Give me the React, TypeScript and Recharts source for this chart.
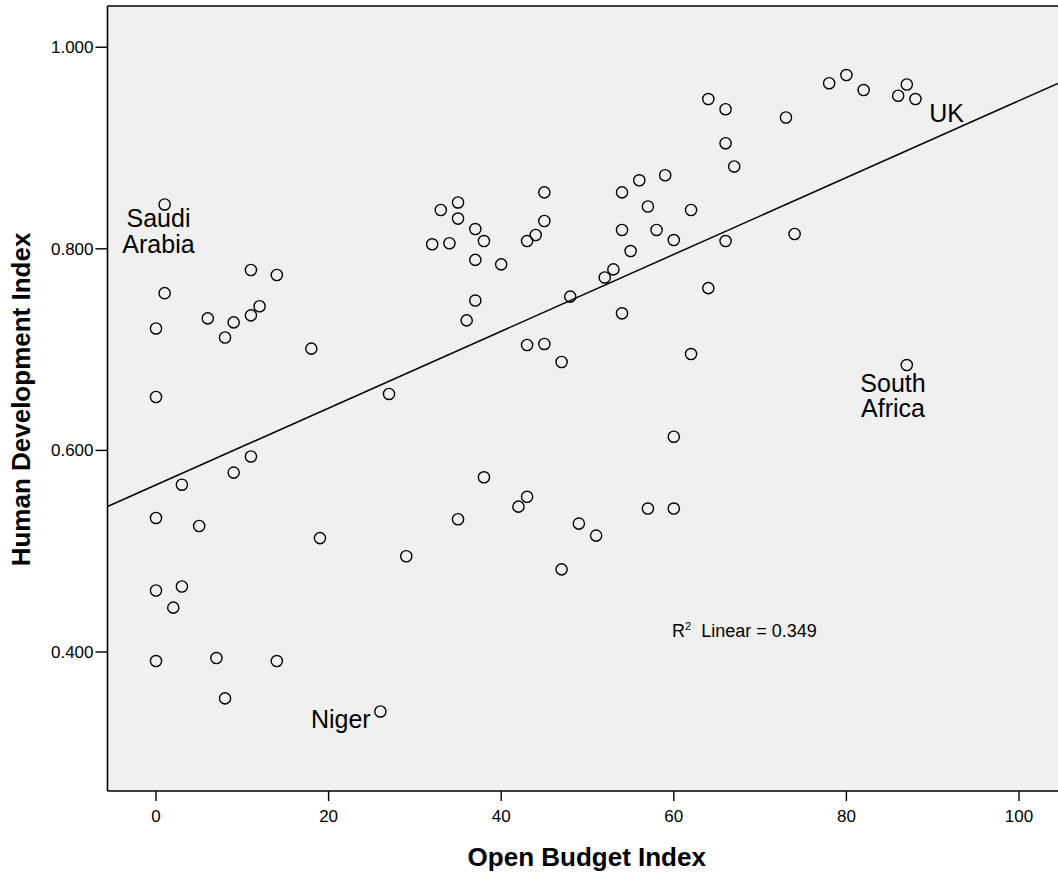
import React from 'react';
import { ScatterChart, Scatter, XAxis, YAxis, CartesianGrid, ReferenceLine, Label } from 'recharts';

const FONT = '"Liberation Sans", Arial, Helvetica, sans-serif';

// plot window (x: Open Budget Index, y: HDI)
const X_DOMAIN: [number, number] = [-5.62, 104.52];
const Y_DOMAIN: [number, number] = [0.2621, 1.0409];
const X_TICKS = [0, 20, 40, 60, 80, 100];
const Y_TICKS = [0.4, 0.6, 0.8, 1.0];

// countries: [open budget index, human development index]
const lowGroup: [number, number][] = [
  [1, 0.844], [1, 0.756], [0, 0.721], [0, 0.653], [0, 0.533], [0, 0.461], [0, 0.391],
  [3, 0.566], [3, 0.465], [2, 0.444], [5, 0.525], [6, 0.731], [8, 0.712], [9, 0.727],
  [9, 0.578], [7, 0.394], [8, 0.354], [11, 0.779], [11, 0.734], [12, 0.743], [11, 0.594],
  [14, 0.774], [14, 0.391], [18, 0.701], [19, 0.513], [27, 0.656], [26, 0.341], [29, 0.495],
];
const midGroup: [number, number][] = [
  [33, 0.8385], [35, 0.846], [35, 0.83], [32, 0.8045], [34, 0.8055], [37, 0.8196], [38, 0.8077],
  [37, 0.789], [40, 0.7846], [37, 0.7487], [36, 0.729], [45, 0.856], [45, 0.8276], [43, 0.8077],
  [44, 0.8137], [48, 0.7526], [43, 0.7046], [45, 0.7056], [47, 0.6877], [35, 0.5317], [38, 0.5733],
  [42, 0.5442], [43, 0.554], [47, 0.482], [49, 0.5274], [51, 0.5155],
];
const highGroup: [number, number][] = [
  [54, 0.856], [56, 0.868], [59, 0.873], [57, 0.842], [62, 0.8385], [54, 0.8187], [58, 0.8187],
  [60, 0.8087], [55, 0.7978], [53, 0.7796], [52, 0.7716], [54, 0.736], [64, 0.761], [62, 0.6956],
  [60, 0.6136], [57, 0.5423], [60, 0.5423], [66, 0.8077], [67, 0.8817], [66, 0.9048], [64, 0.9486],
  [66, 0.9385], [73, 0.9303], [74, 0.8147], [78, 0.9643], [80, 0.9724], [82, 0.9575], [86, 0.9519],
  [87, 0.963], [88, 0.9486], [87, 0.6847],
];

// fit line end points at the plot edges
const fitLine = [
  { x: -5.62, y: 0.5443 },
  { x: 104.52, y: 0.9642 },
];

// text notes placed in data coordinates
const notes = [
  { x: 0.29, y: 0.8216, lines: ['Saudi', 'Arabia'], anchor: 'middle' },
  { x: 89.6, y: 0.926, lines: ['UK'], anchor: 'start' },
  { x: 85.4, y: 0.6582, lines: ['South', 'Africa'], anchor: 'middle' },
  { x: 24.88, y: 0.3243, lines: ['Niger'], anchor: 'end' },
];
const r2Note = [{ x: 59.8, y: 0.4149, value: '0.349' }];

const points = [...lowGroup, ...midGroup, ...highGroup].map(([x, y]) => ({ x, y }));

function OpenCircle(props: any) {
  const { cx, cy } = props;
  if (cx == null || cy == null) return <g />;
  return <circle cx={cx} cy={cy} r={5.6} fill="none" stroke="#000" strokeWidth={1.4} />;
}

function NoteText(props: any) {
  const { cx, cy, payload } = props;
  if (cx == null || cy == null) return <g />;
  return (
    <text x={cx} y={cy} textAnchor={payload.anchor} fontSize={25} fontFamily={FONT} fill="#000">
      {payload.lines.map((l: string, i: number) => (
        <tspan key={i} x={cx} dy={i === 0 ? 0 : 25.5}>{l}</tspan>
      ))}
    </text>
  );
}

function R2Text(props: any) {
  const { cx, cy, payload } = props;
  if (cx == null || cy == null) return <g />;
  return (
    <text x={cx} y={cy} fontSize={18} fontFamily={FONT} fill="#000">
      R
      <tspan fontSize={11} dy={-7}>2</tspan>
      <tspan dy={7}>{'\u00a0 Linear = ' + payload.value}</tspan>
    </text>
  );
}

export default function App() {
  return (
    <div style={{ position: 'absolute', left: 0, top: 0, background: '#fff' }}>
      <ScatterChart width={1058} height={872} margin={{ top: 6, right: 0, bottom: 0, left: 0 }}>
        <CartesianGrid fill="#f0f0f0" horizontal={false} vertical={false} />
        <XAxis
          type="number"
          dataKey="x"
          domain={X_DOMAIN}
          ticks={X_TICKS}
          allowDataOverflow
          height={81}
          axisLine={{ stroke: '#000', strokeWidth: 1.6 }}
          tickLine={{ stroke: '#000', strokeWidth: 1.4 }}
          tickSize={10}
          tickMargin={9}
          tick={{ fill: '#000', fontSize: 17, fontFamily: FONT }}
        >
          <Label
            content={(p: any) => {
              const vb = p.viewBox || {};
              return (
                <text x={vb.x + vb.width / 2 + 4} y={vb.y + 75} textAnchor="middle" fontSize={26}
                  fontWeight="bold" fontFamily={FONT} fill="#000">Open Budget Index</text>
              );
            }}
          />
        </XAxis>
        <YAxis
          type="number"
          dataKey="y"
          domain={Y_DOMAIN}
          ticks={Y_TICKS}
          allowDataOverflow
          width={107.5}
          axisLine={{ stroke: '#000', strokeWidth: 1.6 }}
          tickLine={{ stroke: '#000', strokeWidth: 1.4 }}
          tickSize={12}
          tickMargin={2}
          tickFormatter={(v: number) => v.toFixed(3)}
          tick={{ fill: '#000', fontSize: 17, fontFamily: FONT }}
        >
          <Label
            content={(p: any) => {
              const vb = p.viewBox || {};
              const cy = vb.y + vb.height / 2 + 1;
              return (
                <text x={30} y={cy} transform={`rotate(-90, 30, ${cy})`} textAnchor="middle" fontSize={26}
                  fontWeight="bold" fontFamily={FONT} fill="#000">Human Development Index</text>
              );
            }}
          />
        </YAxis>
        <ReferenceLine y={Y_DOMAIN[1]} stroke="#000" strokeWidth={1.6} />
        <Scatter data={fitLine} line={{ stroke: '#000', strokeWidth: 1.5 }} shape={() => <g />} isAnimationActive={false} />
        <Scatter data={points} shape={<OpenCircle />} isAnimationActive={false} />
        <Scatter data={notes} shape={<NoteText />} isAnimationActive={false} />
        <Scatter data={r2Note} shape={<R2Text />} isAnimationActive={false} />
      </ScatterChart>
    </div>
  );
}
